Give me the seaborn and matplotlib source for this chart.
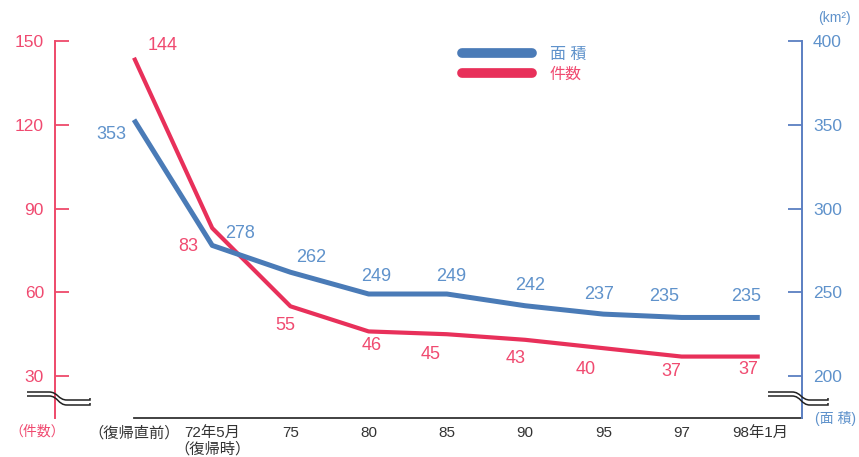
import numpy as np
import pandas as pd
import matplotlib
matplotlib.use("Agg")
import matplotlib.pyplot as plt
import matplotlib.transforms as mtransforms
from matplotlib.path import Path
from matplotlib.patches import PathPatch
from matplotlib.lines import Line2D
import seaborn as sns

# ---- data ----
periods = ["（復帰直前）", "72年5月\n（復帰時）", "75", "80", "85", "90", "95", "97", "98年1月"]
counts = [144, 83, 55, 46, 45, 43, 40, 37, 37]            # 件数
areas = [353, 278, 262, 249, 249, 242, 237, 235, 235]      # 面積 (km²)
count_ticks = [30, 60, 90, 120, 150]
area_ticks = [200, 250, 300, 350, 400]

# label offsets (pixels) relative to each point
count_offsets = [(29, 12), (-24, -18), (-5, -19), (3, -14), (-16, -20), (-9, -19), (-18, -21), (-10, -15), (-11, -13)]
area_offsets = [(-23, -15), (28, 12), (21, 15), (8, 18), (4, 18), (5, 20), (-4, 20), (-17, 21), (-14, 21)]

RED = "#e8305a"
BLUE = "#4a7bb7"
RED_TXT = "#f04a70"
BLUE_TXT = "#5f92cb"
RED_AX = "#ee4a6a"
BLUE_AX = "#5b7fc2"

sns.set_style("white")
plt.rcParams["font.family"] = ["Liberation Sans", "Noto Sans CJK JP"]

W, H = 859, 457
fig = plt.figure(figsize=(W / 100, H / 100), dpi=100)
ax = fig.add_axes([55 / W, 1 - 418 / H, (802 - 55) / W, (418 - 41) / H])
ax2 = ax.twinx()

df = pd.DataFrame({"idx": np.arange(len(periods)), "count": counts, "area": areas})

sns.lineplot(data=df, x="idx", y="count", ax=ax, color=RED, lw=3.0,
             solid_joinstyle="round", solid_capstyle="butt")
sns.lineplot(data=df, x="idx", y="area", ax=ax2, color=BLUE, lw=3.6,
             solid_joinstyle="round", solid_capstyle="butt")

ax.set_xlim(-1.01, 8.54)
ax.set_ylim(15, 150)
ax2.set_ylim(175, 400)

ax.set_xlabel("")
ax.set_ylabel("")
ax2.set_ylabel("")

# x axis
ax.set_xticks(df["idx"])
ax.set_xticklabels(periods, fontsize=11, color="#333333", linespacing=1.1)
ax.tick_params(axis="x", direction="in", length=6, width=1.3, color="#333333", pad=6)
ax.spines["bottom"].set_bounds(0, 8.54)
ax.spines["bottom"].set_color("#333333")
ax.spines["bottom"].set_linewidth(1.3)

# left axis (件数)
ax.set_yticks(count_ticks)
ax.set_yticklabels([str(t) for t in count_ticks], fontsize=12.5, color=RED_TXT)
ax.tick_params(axis="y", direction="in", length=10, width=1.3, color=RED_AX, pad=8)
ax.spines["left"].set_color(RED_AX)
ax.spines["left"].set_linewidth(1.4)
for s in ["top", "right"]:
    ax.spines[s].set_visible(False)

# right axis (面積)
ax2.set_yticks(area_ticks)
ax2.set_yticklabels([str(t) for t in area_ticks], fontsize=12.5, color=BLUE_TXT)
ax2.tick_params(axis="y", direction="in", length=10, width=1.3, color=BLUE_AX, pad=8)
ax2.spines["right"].set_color(BLUE_AX)
ax2.spines["right"].set_linewidth(1.4)
for s in ["top", "left", "bottom"]:
    ax2.spines[s].set_visible(False)

# value labels
for i, (v, off) in enumerate(zip(counts, count_offsets)):
    ax.annotate(str(v), (i, v), xytext=off, textcoords="offset pixels",
                ha="center", va="center", fontsize=13, color=RED_TXT)
for i, (v, off) in enumerate(zip(areas, area_offsets)):
    ax2.annotate(str(v), (i, v), xytext=off, textcoords="offset pixels",
                 ha="center", va="center", fontsize=13, color=BLUE_TXT)

# legend
handles = [Line2D([], [], color=BLUE, lw=7), Line2D([], [], color=RED, lw=7)]
ax2.legend(handles, ["面 積", "件数"], loc="upper left",
           bbox_to_anchor=(462 / W, 1 - 47 / H), bbox_transform=fig.transFigure,
           frameon=False, fontsize=11.5, handlelength=4.4, handletextpad=1.1,
           labelspacing=0.3, borderpad=0, borderaxespad=0,
           labelcolor=[BLUE_TXT, RED_TXT])

# unit labels
fig.text(37 / W, 1 - 432 / H, "（件数）", ha="center", va="center", fontsize=10, color=RED_TXT)
fig.text(856 / W, 1 - 419 / H, "(面 積)", ha="right", va="center", fontsize=10, color=BLUE_TXT)
fig.text(834 / W, 1 - 18 / H, "(km²)", ha="center", va="center", fontsize=10, color=BLUE_TXT)


# axis break marks: two parallel strokes stepping down across the spine
def axis_break(xa, ya, left, mid_l, mid_r, right):
    trans = fig.dpi_scale_trans + mtransforms.ScaledTranslation(xa, ya, ax.transAxes)
    s = 1 / 100.0
    codes = [Path.MOVETO, Path.LINETO, Path.CURVE4, Path.CURVE4, Path.CURVE4,
             Path.LINETO, Path.LINETO]
    for y_hi, y_lo in ((6, -2), (2, -7)):
        c = (mid_l + mid_r) / 2
        pts = [(left * s, y_hi * s), (mid_l * s, y_hi * s),
               (c * s, y_hi * s), (c * s, y_lo * s), (mid_r * s, y_lo * s),
               (right * s, y_lo * s), (right * s, (y_lo + 2) * s)]
        fig.patches.append(PathPatch(Path(pts, codes), transform=trans, facecolor="none",
                                     edgecolor="#222222", lw=1.1, zorder=6))


axis_break(0.0, 20 / 377, -28, -6, 12, 35)
axis_break(1.0, 20 / 377, -34, -10, 8, 26)

fig.savefig("out.png", dpi=100)
